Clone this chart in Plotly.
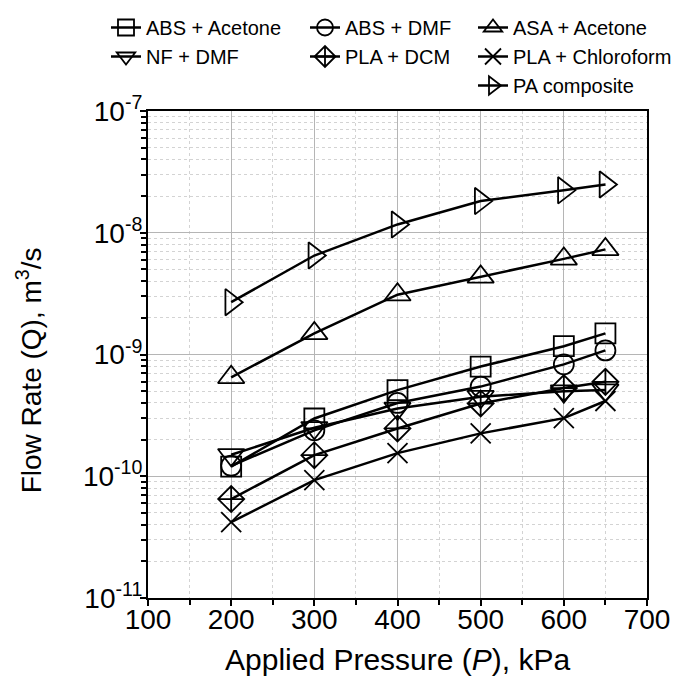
import plotly.graph_objects as go

pressure = [200, 300, 400, 500, 600, 650]
abs_acetone = [1.2e-10, 2.98e-10, 5.1e-10, 7.96e-10, 1.17e-9, 1.49e-9]
abs_dmf = [1.22e-10, 2.38e-10, 4.0e-10, 5.45e-10, 8.3e-10, 1.08e-9]
asa_acetone = [6.5e-10, 1.49e-9, 3.1e-9, 4.34e-9, 6.1e-9, 7.3e-9]
nf_dmf = [1.5e-10, 2.5e-10, 3.6e-10, 4.5e-10, 5.0e-10, 5.1e-10]
pla_dcm = [6.5e-11, 1.49e-10, 2.47e-10, 3.96e-10, 5.3e-10, 5.96e-10]
pla_chloroform = [4.2e-11, 9.3e-11, 1.55e-10, 2.25e-10, 3.0e-10, 4.15e-10]
pa_composite = [2.69e-9, 6.5e-9, 1.17e-8, 1.82e-8, 2.23e-8, 2.49e-8]

y_tick_exps = [-11, -10, -9, -8, -7]
x_ticks = [100, 200, 300, 400, 500, 600, 700]

series = [
    ("ABS + Acetone", abs_acetone, "square-open", 20, "legend"),
    ("ABS + DMF", abs_dmf, "circle-open", 20, "legend2"),
    ("ASA + Acetone", asa_acetone, "triangle-up-open", 23, "legend3"),
    ("NF + DMF", nf_dmf, "triangle-down-open", 23, "legend"),
    ("PLA + DCM", pla_dcm, "diamond-cross-open", 20, "legend2"),
    ("PLA + Chloroform", pla_chloroform, "x-thin-open", 20, "legend3"),
    ("PA composite", pa_composite, "triangle-right-open", 23, "legend3"),
]

fig = go.Figure()
for name, vals, sym, size, leg in series:
    fig.add_trace(go.Scatter(
        x=pressure, y=vals, name=name, mode="lines+markers",
        line=dict(color="black", width=2.5),
        marker=dict(symbol=sym, size=size, color="black",
                    line=dict(color="black", width=1.8)),
        legend=leg,
    ))

font = "Liberation Sans, Arial, sans-serif"
W, H = 681, 695
leg_common = dict(xref="container", yref="container", xanchor="left",
                  yanchor="top", font=dict(size=20),
                  bgcolor="rgba(0,0,0,0)", itemwidth=30)
leg_top = 1.0235

fig.update_layout(
    width=W, height=H,
    margin=dict(l=140, r=42, t=103, b=105, autoexpand=False),
    paper_bgcolor="white", plot_bgcolor="white",
    font=dict(family=font, color="black"),
    legend=dict(x=98 / W, y=leg_top, **leg_common),
    legend2=dict(x=297 / W, y=leg_top, **leg_common),
    legend3=dict(x=465 / W, y=leg_top, **leg_common),
    xaxis=dict(
        range=[100, 700], tickmode="array", tickvals=x_ticks,
        ticktext=[str(v) for v in x_ticks],
        tickfont=dict(size=28), ticks="outside", ticklen=6, tickwidth=1.5,
        tickcolor="black", ticklabelstandoff=-11,
        showline=True, linecolor="black", linewidth=2, mirror=True,
        showgrid=True, gridcolor="#b5b5b5", gridwidth=1,
        zeroline=False,
        minor=dict(dtick=50, tick0=100, ticks="outside", ticklen=5,
                   tickcolor="black", showgrid=True, gridcolor="#d3d3d3",
                   griddash="dot", gridwidth=1),
    ),
    yaxis=dict(
        type="log", range=[-11, -7], tickmode="array",
        tickvals=[10.0 ** e for e in y_tick_exps],
        ticktext=["10<sup>%d</sup>" % e for e in y_tick_exps],
        tickfont=dict(size=28), ticks="outside", ticklen=6, tickwidth=1.5,
        tickcolor="black", ticklabelstandoff=-8,
        showline=True, linecolor="black", linewidth=2, mirror=True,
        showgrid=True, gridcolor="#b5b5b5", gridwidth=1,
        zeroline=False,
        minor=dict(dtick="D1", ticks="outside",
                   ticklen=5, tickcolor="black", showgrid=True,
                   gridcolor="#d3d3d3", griddash="dot", gridwidth=1),
    ),
    annotations=[
        dict(text="Applied Pressure (<i>P</i>), kPa", xref="paper",
             yref="paper", x=0.5, y=-0.127, xanchor="center",
             yanchor="middle", showarrow=False, font=dict(size=30)),
        dict(text="Flow Rate (Q), m<sup>3</sup>/s", xref="paper",
             yref="paper", x=-0.238, y=0.468, xanchor="center",
             yanchor="middle", textangle=-90, showarrow=False,
             font=dict(size=28)),
    ],
)

fig.write_html("out.html")
